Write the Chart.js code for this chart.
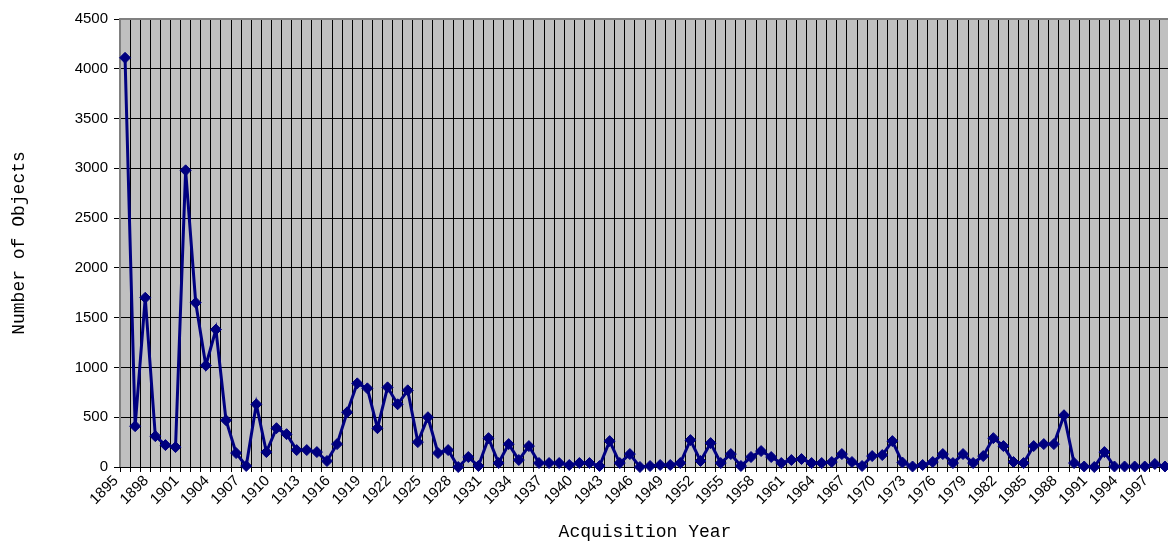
<!DOCTYPE html>
<html lang="en">
<head>
  <meta charset="UTF-8">
  <title>Acquisitions by Year</title>
  <script src="https://cdn.jsdelivr.net/npm/chart.js"></script>
  <style>
    html, body {
      margin: 0;
      padding: 0;
      background: #ffffff;
      overflow: hidden;
    }

    .chart-wrap {
      position: absolute;
      left: 0;
      top: 0;
      width: 1180px;
      height: 546px;
    }
  </style>
</head>
<body>

  <div class="chart-wrap">
    <canvas id="acqChart" width="1180" height="546"></canvas>
  </div>

  <script>
    // acquisition years shown on the category axis
    const years = [
      '1895','1896','1897','1898','1899','1900','1901','1902','1903','1904',
      '1905','1906','1907','1908','1909','1910','1911','1912','1913','1914',
      '1915','1916','1917','1918','1919','1920','1921','1922','1923','1924',
      '1925','1926','1927','1928','1929','1930','1931','1932','1933','1934',
      '1935','1936','1937','1938','1939','1940','1941','1942','1943','1944',
      '1945','1946','1947','1948','1949','1950','1951','1952','1953','1954',
      '1955','1956','1957','1958','1959','1960','1961','1962','1963','1964',
      '1965','1966','1967','1968','1969','1970','1971','1972','1973','1974',
      '1975','1976','1977','1978','1979','1980','1981','1982','1983','1984',
      '1985','1986','1987','1988','1989','1990','1991','1992','1993','1994',
      '1995','1996','1997','1998'
    ];

    // number of objects acquired each year
    const objectCounts = [
      4110, 410, 1700, 310, 220, 200, 2980, 1650, 1020, 1380,
      470, 140, 10, 630, 150, 390, 330, 170, 170, 150,
      60, 230, 550, 840, 790, 390, 800, 630, 770, 250,
      500, 140, 170, 0, 100, 10, 290, 40, 230, 70,
      210, 40, 40, 40, 20, 40, 40, 10, 260, 40,
      130, 0, 10, 20, 20, 40, 270, 60, 240, 40,
      130, 10, 100, 160, 100, 40, 70, 80, 40, 40,
      50, 130, 50, 10, 110, 120, 260, 45, 5, 20,
      50, 130, 40, 130, 40, 110, 290, 210, 50, 40,
      210, 230, 230, 520, 40, 5, 0, 150, 5, 5,
      5, 5, 30, 5
    ];

    // only every third year gets a label
    const labelledYears = [
      '1895','1898','1901','1904','1907','1910','1913','1916','1919','1922',
      '1925','1928','1931','1934','1937','1940','1943','1946','1949','1952',
      '1955','1958','1961','1964','1967','1970','1973','1976','1979','1982',
      '1985','1988','1991','1994','1997'
    ];

    const yTicks = [0, 500, 1000, 1500, 2000, 2500, 3000, 3500, 4000, 4500];

    // grey plot area + grey frame, like the old spreadsheet chart
    const plotArea = {
      id: 'plotArea',
      beforeDraw(chart) {
        const a = chart.chartArea;
        const c = chart.ctx;
        c.save();
        c.fillStyle = '#c0c0c0';
        c.fillRect(a.left, a.top, a.right - a.left, a.bottom - a.top);
        c.restore();
      },
      beforeDatasetsDraw(chart) {
        const a = chart.chartArea;
        const c = chart.ctx;
        c.save();
        c.strokeStyle = '#808080';
        c.lineWidth = 2;
        c.beginPath();
        c.moveTo(a.left, a.bottom);
        c.lineTo(a.left, a.top);
        c.lineTo(a.right, a.top);
        c.lineTo(a.right, a.bottom);
        c.stroke();
        c.restore();
      }
    };

    const ctx = document.getElementById('acqChart').getContext('2d');
    new Chart(ctx, {
      type: 'line',
      data: {
        labels: years,
        datasets: [{
          label: 'Number of Objects',
          data: objectCounts,
          borderColor: '#000080',
          backgroundColor: '#000080',
          borderWidth: 3,
          tension: 0,
          pointStyle: 'rectRot',
          pointRadius: 5.5,
          pointBorderWidth: 1,
          pointBackgroundColor: '#000080',
          pointBorderColor: '#000080',
          clip: false
        }]
      },
      options: {
        responsive: false,
        devicePixelRatio: 1,
        animation: false,
        layout: {
          padding: { left: 0, top: 19, right: 10, bottom: 0 }
        },
        plugins: {
          legend: { display: false },
          tooltip: { enabled: false }
        },
        scales: {
          x: {
            type: 'category',
            offset: true,
            grid: {
              offset: true,
              color: '#000000',
              lineWidth: 1,
              tickLength: 5,
              tickColor: '#000000'
            },
            border: { display: true, color: '#000000', width: 1 },
            ticks: {
              autoSkip: false,
              minRotation: 45,
              maxRotation: 45,
              padding: 0,
              labelOffset: -9,
              color: '#000000',
              font: { family: '"Liberation Sans", Arial, sans-serif', size: 15 },
              callback: function (value) {
                const y = this.getLabelForValue(value);
                return labelledYears.includes(y) ? y : '';
              }
            },
            title: {
              display: true,
              text: 'Acquisition Year',
              color: '#000000',
              font: { family: '"Liberation Mono", "Courier New", monospace', size: 18 },
              padding: { top: 0, bottom: 3 }
            },
            afterFit: (scale) => { scale.height = 79; }
          },
          y: {
            min: 0,
            max: 4500,
            afterBuildTicks: (scale) => {
              scale.ticks = yTicks.map(v => ({ value: v }));
            },
            grid: {
              color: '#000000',
              lineWidth: 1,
              tickLength: 6,
              tickColor: '#000000'
            },
            border: { display: false },
            ticks: {
              padding: 6,
              color: '#000000',
              font: { family: '"Liberation Sans", Arial, sans-serif', size: 15 },
              callback: (value) => String(value)
            },
            title: {
              display: true,
              text: 'Number of Objects',
              color: '#000000',
              font: { family: '"Liberation Mono", "Courier New", monospace', size: 18 },
              padding: { top: 8, bottom: 0 }
            },
            afterFit: (scale) => { scale.width = 120; }
          }
        }
      },
      plugins: [plotArea]
    });
  </script>

</body>
</html>
